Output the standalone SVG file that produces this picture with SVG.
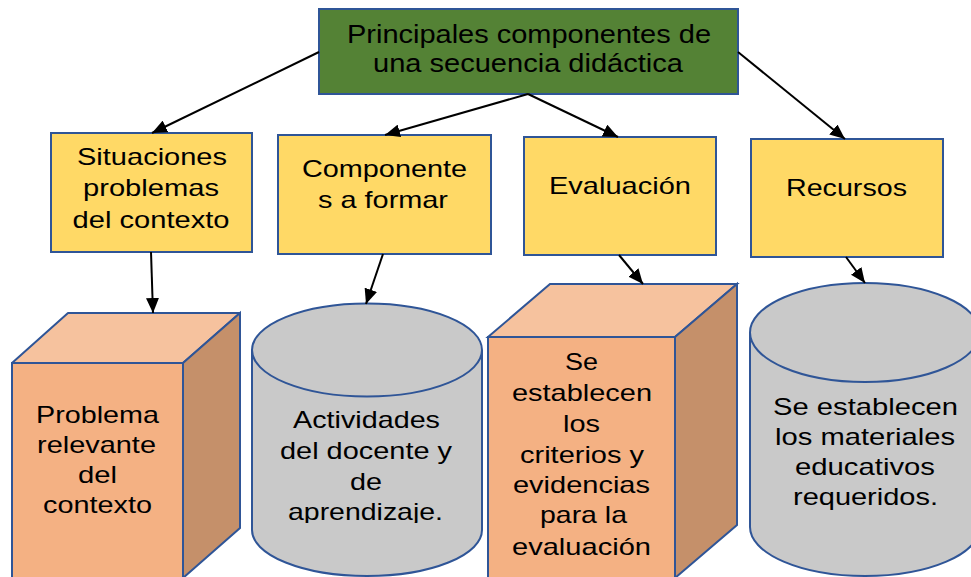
<svg xmlns="http://www.w3.org/2000/svg" width="971" height="577" viewBox="0 0 971 577">
<style>
.t{font-family:"Liberation Sans",Arial,sans-serif;font-size:24px;fill:#000;text-anchor:middle;}
.tt{font-size:25px;}
.b{stroke:#2F5597;stroke-width:2;}
.y{fill:#FFD966;}
.g{fill:#548235;}
.ff{fill:#F4B183;}
.ft{fill:#F6C29E;}
.fr{fill:#C5906A;}
.cy{fill:#C9C9C9;}
.c{stroke:#000;stroke-width:2;fill:none;marker-end:url(#ah);}
</style>
<defs>
<marker id="ah" markerUnits="userSpaceOnUse" markerWidth="15" markerHeight="13" refX="15" refY="6.5" orient="auto">
<path d="M0,0 L15,6.5 L0,13 z" fill="#000"/>
</marker>
<clipPath id="clipA"><rect x="240" y="280" width="260" height="243"/></clipPath>
</defs>
<rect width="971" height="577" fill="#fff"/>

<g id="top">
<rect x="319" y="9" width="419" height="85" class="g b"/>
<text class="t tt" x="529" y="43" textLength="364" lengthAdjust="spacingAndGlyphs">Principales componentes de</text>
<text class="t tt" x="528" y="72" textLength="310" lengthAdjust="spacingAndGlyphs">una secuencia didáctica</text>
</g>

<g id="situaciones">
<rect x="51" y="133" width="201" height="119" class="y b"/>
<text class="t" x="152" y="165" textLength="150" lengthAdjust="spacingAndGlyphs">Situaciones</text>
<text class="t" x="151" y="196" textLength="136" lengthAdjust="spacingAndGlyphs">problemas</text>
<text class="t" x="151" y="228" textLength="157" lengthAdjust="spacingAndGlyphs">del contexto</text>
</g>

<g id="componentes">
<rect x="278" y="135" width="213" height="119" class="y b"/>
<text class="t" x="384.5" y="177" textLength="165" lengthAdjust="spacingAndGlyphs">Componente</text>
<text class="t" x="383" y="208" textLength="130" lengthAdjust="spacingAndGlyphs">s a formar</text>
</g>

<g id="evaluacion">
<rect x="524" y="137" width="192" height="118" class="y b"/>
<text class="t" x="620" y="194" textLength="142" lengthAdjust="spacingAndGlyphs">Evaluación</text>
</g>

<g id="recursos">
<rect x="751" y="139" width="192" height="118" class="y b"/>
<text class="t" x="846.5" y="196" textLength="121" lengthAdjust="spacingAndGlyphs">Recursos</text>
</g>

<g id="problema">
<polygon points="12,363 68,313 240,313 183,363" class="ft b" stroke-linejoin="round"/>
<polygon points="183,363 240,313 240,528 183,578" class="fr b"/>
<rect x="12" y="363" width="171" height="220" class="ff b"/>
<text class="t" x="97.5" y="423" textLength="123" lengthAdjust="spacingAndGlyphs">Problema</text>
<text class="t" x="96.5" y="453" textLength="119" lengthAdjust="spacingAndGlyphs">relevante</text>
<text class="t" x="97.5" y="483" textLength="39" lengthAdjust="spacingAndGlyphs">del</text>
<text class="t" x="97.5" y="513" textLength="109" lengthAdjust="spacingAndGlyphs">contexto</text>
</g>

<g id="actividades">
<path d="M252,350 L252,530 A115,46 0 0 0 482,530 L482,350" class="cy b"/>
<ellipse cx="367" cy="350" rx="115" ry="46.5" class="cy b"/>
<g clip-path="url(#clipA)">
<text class="t" x="366.5" y="428" textLength="147" lengthAdjust="spacingAndGlyphs">Actividades</text>
<text class="t" x="366" y="459" textLength="172" lengthAdjust="spacingAndGlyphs">del docente y</text>
<text class="t" x="366" y="490" textLength="32" lengthAdjust="spacingAndGlyphs">de</text>
<text class="t" x="365.5" y="520" textLength="155" lengthAdjust="spacingAndGlyphs">aprendizaje.</text>
</g>
</g>

<g id="criterios">
<polygon points="488,337 550,284 737,284 675,337" class="ft b"/>
<polygon points="675,337 737,284 737,525 675,578" class="fr b"/>
<rect x="488" y="337" width="187" height="246" class="ff b"/>
<text class="t" x="581.5" y="370" textLength="33" lengthAdjust="spacingAndGlyphs">Se</text>
<text class="t" x="582" y="401" textLength="140" lengthAdjust="spacingAndGlyphs">establecen</text>
<text class="t" x="581.5" y="432" textLength="37" lengthAdjust="spacingAndGlyphs">los</text>
<text class="t" x="582" y="463" textLength="124" lengthAdjust="spacingAndGlyphs">criterios y</text>
<text class="t" x="581.5" y="493" textLength="137" lengthAdjust="spacingAndGlyphs">evidencias</text>
<text class="t" x="583.5" y="523" textLength="87" lengthAdjust="spacingAndGlyphs">para la</text>
<text class="t" x="581.5" y="555" textLength="139" lengthAdjust="spacingAndGlyphs">evaluación</text>
</g>

<g id="materiales">
<path d="M750,332 L750,527 A115,49 0 0 0 980,527 L980,332" class="cy b"/>
<ellipse cx="865" cy="332.5" rx="115" ry="49.5" class="cy b"/>
<text class="t" x="865.5" y="415" textLength="185" lengthAdjust="spacingAndGlyphs">Se establecen</text>
<text class="t" x="865" y="445" textLength="180" lengthAdjust="spacingAndGlyphs">los materiales</text>
<text class="t" x="865" y="475" textLength="140" lengthAdjust="spacingAndGlyphs">educativos</text>
<text class="t" x="865.5" y="505" textLength="145" lengthAdjust="spacingAndGlyphs">requeridos.</text>
</g>

<g id="connectors">
<line x1="319" y1="52" x2="152" y2="133" class="c"/>
<line x1="528" y1="94" x2="385" y2="135" class="c"/>
<line x1="528" y1="94" x2="618" y2="137" class="c"/>
<line x1="738" y1="52" x2="845" y2="139" class="c"/>
<line x1="151" y1="252" x2="153" y2="313" class="c"/>
<line x1="383" y1="254" x2="366" y2="304" class="c"/>
<line x1="619" y1="255" x2="643" y2="284" class="c"/>
<line x1="846" y1="257" x2="865" y2="283" class="c"/>
</g>
</svg>
